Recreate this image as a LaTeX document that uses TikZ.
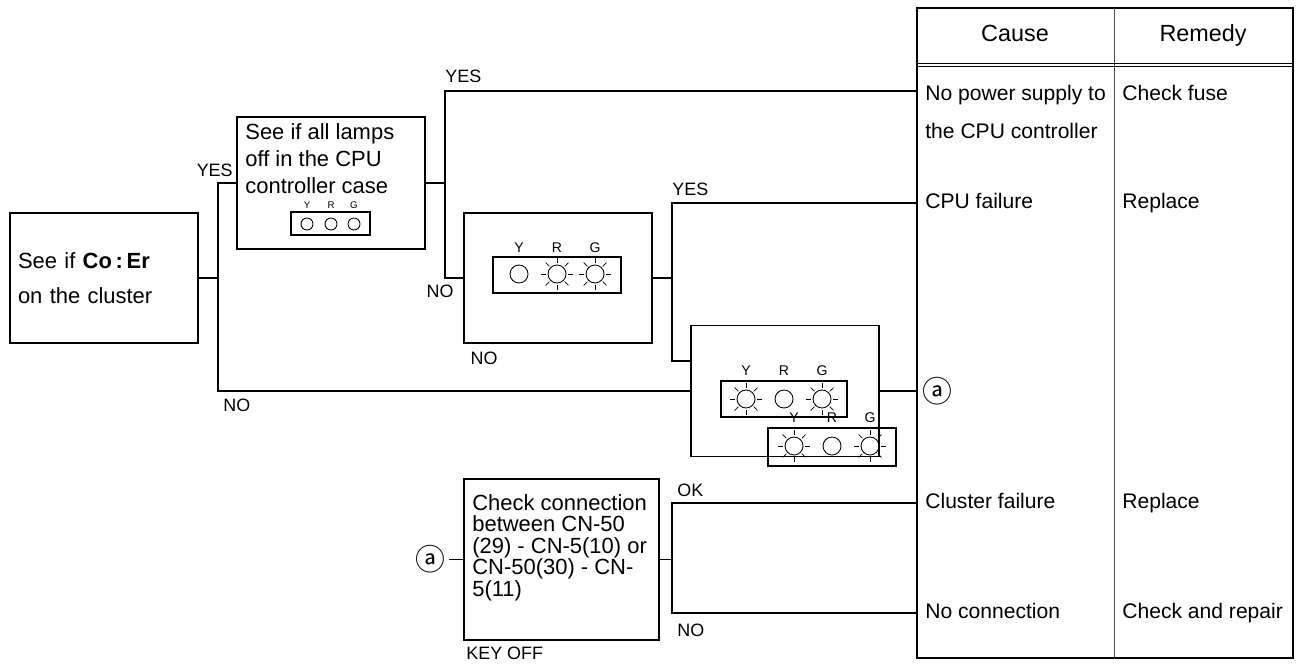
\documentclass[tikz,border=0pt]{standalone}
\usepackage{fontspec}
\setmainfont{Liberation Sans}
\newfontfamily\circfont{Noto Sans CJK JP}
\usetikzlibrary{positioning}

\tikzset{
  box/.style={draw, line width=1.1pt, minimum width=3.76cm, inner sep=0pt},
  boxtext/.style={anchor=north west, align=left, inner sep=0pt, font=\fontsize{12.5}{#1}\selectfont},
  boxtext/.default=15pt,
  lbl/.style={inner sep=0pt, font=\fontsize{10.2}{12}\selectfont},
  cellbase/.style={inner xsep=0.16cm, inner ysep=0pt, font=\fontsize{12}{14}\selectfont},
  cell/.style={cellbase, anchor=west, text height=0.3cm, text depth=0.08cm},
  head/.style={inner sep=0pt, text height=0.34cm, text depth=0.09cm, font=\fontsize{13.3}{16}\selectfont},
  link/.style={line width=0.6pt},
  panel/.style={line width=0.75pt},
  lampline/.style={line width=0.5pt},
  rayline/.style={line width=0.4pt},
  lampkey/.style={inner sep=0pt, font=\fontsize{#1}{#1}\selectfont},
  lampkey/.default=8,
  amark/.style={inner sep=0pt, inner xsep=0.08cm, font=\circfont\fontsize{17}{17}\selectfont},
}

\newcommand{\lampoff}[3]{\draw[lampline] (#1,#2) circle (#3);}
\newcommand{\lampon}[3]{%
  \draw[lampline] (#1,#2) circle (#3);
  \foreach \a in {0,45,...,315}
    \draw[rayline] (#1,#2) ++(\a:{1.2*#3}) -- ++(\a:{0.6*#3});}

\begin{document}
\begin{tikzpicture}[x=0.02cm, y=-0.02cm]
\useasboundingbox (0,0) rectangle (1300,665);

% check boxes
\node[box, minimum height=2.6cm, text width=3.44cm, inner xsep=0.16cm, align=left,
  font=\fontsize{12.5}{19.8}\selectfont] (start) at (104,278) {See if \textbf{Co\,:\,Er}\\on the cluster};

\node[box, minimum height=2.64cm] (lamps) at (331,183) {};
\node[boxtext=15.3pt] (lampstext) at (245,123) {See if all lamps\\off in the CPU\\controller case};
\draw[panel] (291,212) rectangle (370,235);
\foreach \x/\c in {307/Y,331/R,354/G} {
  \lampoff{\x}{224}{6}
  \node[lampkey=5.5] at (\x,205) {\c};
}

\node[box, minimum height=2.6cm] (ryg3) at (558,278) {};
\draw[panel] (493,257) rectangle (621,293);
\lampoff{519}{274}{9} \lampon{557}{274}{9} \lampon{595}{274}{9}
\foreach \x/\c in {519/Y,557/R,595/G} \node[lampkey] at (\x,248) {\c};

\node[box, minimum height=2.62cm] (ryg4) at (785,391) {};
\draw[panel] (721,381) rectangle (847,417);
\lampon{746}{399}{9} \lampoff{784}{399}{9} \lampon{822}{399}{9}
\foreach \x/\c in {746/Y,784/R,822/G} \node[lampkey] at (\x,371) {\c};
\draw[panel] (768,428) rectangle (896,466);
\lampon{794}{446}{9} \lampoff{832}{446}{9} \lampon{870}{446}{9}
\foreach \x/\c in {794/Y,832/R,870/G} \node[lampkey] at (\x,418) {\c};

\node[box, minimum width=3.9cm, minimum height=3.22cm] (conn) at (561.5,559.5) {};
\node[boxtext=12.2pt] (conntext) at (472,494) {Check connection\\between CN-50\\(29) - CN-5(10) or\\CN-50(30) - CN-\\5(11)};
\node[lbl, anchor=west] (keyoff) at (466,653) {KEY OFF};
\node[amark] (amark) at (430,559.5) {ⓐ};

% cause / remedy table
\node[draw, line width=1.1pt, minimum width=7.52cm, minimum height=13cm, inner sep=0pt] (table) at (1105,333) {};
\draw[line width=0.5pt, black!70] (1114,8) -- (1114,658);
\draw[line width=0.5pt] (917,63) -- (1293,63) (917,66) -- (1293,66);
\node[head] (cause) at (1015,35) {Cause};
\node[head] (remedy) at (1203,35) {Remedy};

\node[cellbase, anchor=north west, align=left, font=\fontsize{12}{21.6}\selectfont] (power) at (917,85) {No power supply to\\the CPU controller};
\node[cellbase, anchor=north west] (fuse) at (1114,85) {Check fuse};
\node[cell] (cpu) at (917,203) {CPU failure};
\node[cell] (repl1) at (1114,203) {Replace};
\node[amark, anchor=center] (amarkr) at (937,391) {ⓐ};
\node[cell] (clus) at (917,503) {Cluster failure};
\node[cell] (repl2) at (1114,503) {Replace};
\node[cell] (noconn) at (917,613) {No connection};
\node[cell] (repair) at (1114,613) {Check and repair};

% connectors
\coordinate (jA) at (218,278);
\coordinate (jB) at (445,183);
\coordinate (jBtop) at (445,91);
\coordinate (jC) at (672,278);
\coordinate (jD) at (672,559.5);

\draw[link] (start.east) -- (jA) |- (lamps.west);
\draw[link] (jA) |- (ryg4.west);
\draw[link] (lamps.east) -- (jB) -- (jBtop) -- (jBtop -| table.west);
\draw[link] (jB) |- (ryg3.west);
\draw[link] (ryg3.east) -- (jC) |- (cpu.west);
\draw[link] (jC) |- ([yshift=0.6cm]ryg4.west);
\draw[link] (ryg4.east) -- (ryg4.east -| table.west);
\draw[link] (amark.east) -- (conn.west);
\draw[link] (conn.east) -- (jD) |- (clus.west);
\draw[link] (jD) |- (noconn.west);

% branch labels
\node[lbl, anchor=east] (yes1) at (233,170) {YES};
\node[lbl, anchor=west] (no1) at (223,405) {NO};
\node[lbl, anchor=west] (yes2) at (445,76) {YES};
\node[lbl] (no2) at (440,291) {NO};
\node[lbl, anchor=west] (yes3) at (672,189) {YES};
\node[lbl] (no3) at (484,358) {NO};
\node[lbl, anchor=west] (ok4) at (677,490) {OK};
\node[lbl, anchor=west] (no4) at (677,630) {NO};
\end{tikzpicture}
\end{document}
